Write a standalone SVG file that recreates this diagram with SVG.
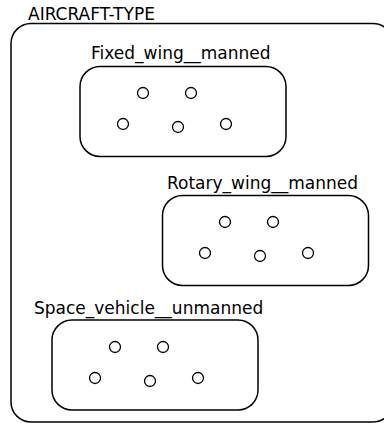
<svg xmlns="http://www.w3.org/2000/svg" width="384" height="423" viewBox="0 0 384 423">
<style>
.box{fill:#fff;stroke:#000;stroke-width:1.5}
.pt{fill:#fff;stroke:#000;stroke-width:1.3}
text{font-family:"DejaVu Sans",sans-serif;font-size:17px;fill:#000}
</style>
<rect width="384" height="423" fill="#fff"/>
<g id="aircraft-type">
<rect class="box" x="11" y="23.5" width="382" height="398.5" rx="20"/>
<text x="28" y="19.5">AIRCRAFT-TYPE</text>
</g>
<g id="fixed_wing__manned">
<rect class="box" x="80" y="66.5" width="206" height="90" rx="20"/>
<text x="91" y="59">Fixed_wing__manned</text>
<circle class="pt" cx="143" cy="93" r="5.5"/>
<circle class="pt" cx="191" cy="93" r="5.5"/>
<circle class="pt" cx="123" cy="124" r="5.5"/>
<circle class="pt" cx="178" cy="127" r="5.5"/>
<circle class="pt" cx="226" cy="124" r="5.5"/>
</g>
<g id="rotary_wing__manned">
<rect class="box" x="162.5" y="195.5" width="206" height="90" rx="20"/>
<text x="167" y="189">Rotary_wing__manned</text>
<circle class="pt" cx="225" cy="222" r="5.5"/>
<circle class="pt" cx="273" cy="222" r="5.5"/>
<circle class="pt" cx="205" cy="253" r="5.5"/>
<circle class="pt" cx="260" cy="256" r="5.5"/>
<circle class="pt" cx="308" cy="253" r="5.5"/>
</g>
<g id="space_vehicle__unmanned">
<rect class="box" x="52" y="320" width="206" height="90" rx="20"/>
<text x="34" y="314">Space_vehicle__unmanned</text>
<circle class="pt" cx="115" cy="347" r="5.5"/>
<circle class="pt" cx="163" cy="347" r="5.5"/>
<circle class="pt" cx="95" cy="378" r="5.5"/>
<circle class="pt" cx="150" cy="381" r="5.5"/>
<circle class="pt" cx="198" cy="378" r="5.5"/>
</g>
<g id="connectors"/>
</svg>
